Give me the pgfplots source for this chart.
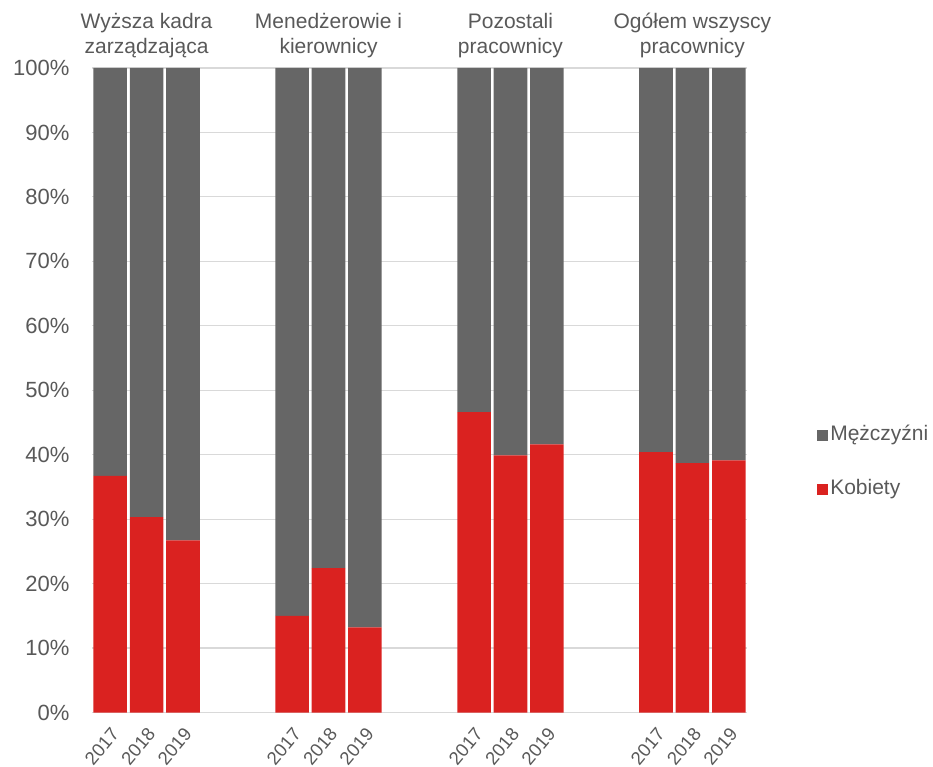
\documentclass[border=0pt]{standalone}
\usepackage{pgfplots}
\pgfplotsset{compat=1.18}
\usepackage{fontspec}
\setmainfont{Liberation Sans}

\definecolor{kred}{HTML}{DA2220}
\definecolor{mgrey}{HTML}{666666}
\definecolor{txtgrey}{HTML}{595959}
\definecolor{gridgrey}{HTML}{D9D9D9}

\begin{document}
\begin{tikzpicture}[font=\fontsize{21bp}{25bp}\selectfont]
\useasboundingbox (-92bp,-54.5bp) rectangle (841bp,712.5bp);
\begin{axis}[
  at={(0,0)}, anchor=south west,
  scale only axis, width=655bp, height=644.5bp,
  xmin=-0.5, xmax=17.5, ymin=0, ymax=100,
  clip=false,
  ybar stacked, bar width=33.6bp,
  axis lines*=left, axis line style={draw=none},
  tick style={draw=none},
  ymajorgrids, major grid style={gridgrey, line width=1.2bp},
  ytick={0,10,...,100},
  yticklabels={0\%,10\%,20\%,30\%,40\%,50\%,60\%,70\%,80\%,90\%,100\%},
  xtick={0,1,2,5,6,7,10,11,12,15,16,17},
  xticklabels={2017,2018,2019,2017,2018,2019,2017,2018,2019,2017,2018,2019},
  ticklabel style={text=txtgrey},
  yticklabel style={xshift=-19bp, font=\fontsize{22bp}{26bp}\selectfont},
  xticklabel style={xshift=5bp, yshift=-18bp, rotate=50, anchor=east,
    inner sep=0pt, font=\fontsize{18.5bp}{22bp}\selectfont},
  reverse legend, legend cell align=left,
  legend style={at={(axis description cs:1.107,0.388)}, anchor=west,
    draw=none, fill=none, inner sep=0pt, row sep=31bp,
    nodes={text=txtgrey, inner sep=2bp, text height=15bp, text depth=4.5bp}},
]
\addplot[fill=kred, draw=none,
  legend image code/.code={\fill[kred] (0bp,-5.5bp) rectangle (11bp,5.5bp);}]
  coordinates {(0,36.7) (1,30.3) (2,26.7) (5,15.0) (6,22.4) (7,13.2)
               (10,46.6) (11,39.9) (12,41.6) (15,40.4) (16,38.7) (17,39.1)};
\addplot[fill=mgrey, draw=none,
  legend image code/.code={\fill[mgrey] (0bp,-5.5bp) rectangle (11bp,5.5bp);}]
  coordinates {(0,63.3) (1,69.7) (2,73.3) (5,85.0) (6,77.6) (7,86.8)
               (10,53.4) (11,60.1) (12,58.4) (15,59.6) (16,61.3) (17,60.9)};
\legend{Kobiety, Mężczyźni}

% group headings above each trio of bars
\node[anchor=south, align=center, yshift=10bp, text=txtgrey, inner sep=0pt]
  at (axis cs:1,100) {Wyższa kadra\\zarządzająca};
\node[anchor=south, align=center, yshift=10bp, text=txtgrey, inner sep=0pt]
  at (axis cs:6,100) {Menedżerowie i\\kierownicy};
\node[anchor=south, align=center, yshift=10bp, text=txtgrey, inner sep=0pt]
  at (axis cs:11,100) {Pozostali\\pracownicy};
\node[anchor=south, align=center, yshift=10bp, text=txtgrey, inner sep=0pt]
  at (axis cs:16,100) {Ogółem wszyscy\\pracownicy};
\end{axis}
\end{tikzpicture}
\end{document}
